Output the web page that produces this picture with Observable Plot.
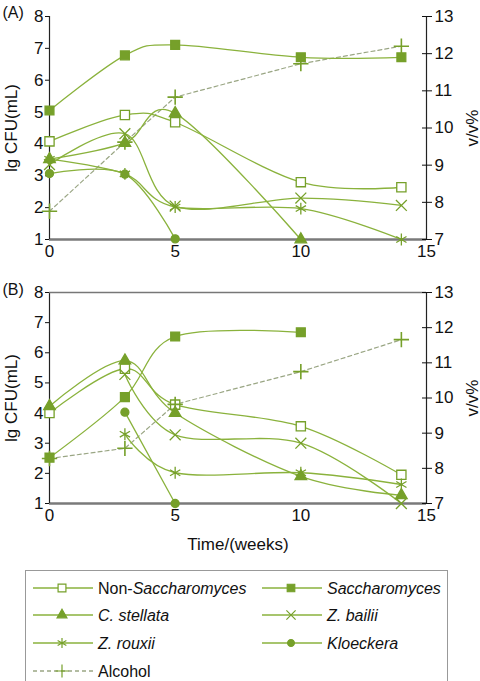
<!DOCTYPE html>
<html><head><meta charset="utf-8">
<script src="https://cdn.jsdelivr.net/npm/d3@7"></script>
<script src="https://cdn.jsdelivr.net/npm/@observablehq/plot@0.6"></script>
<style>
body{margin:0;background:#fff;font-family:"Liberation Sans",Arial,sans-serif;}
#wrap{position:relative;width:480px;height:681px;overflow:hidden;background:#fff;}
#wrap svg{display:block}
#legend{position:absolute;left:25px;top:570px;width:423px;height:116px;border:1px solid #999;box-sizing:border-box;}
#legend svg{position:absolute;left:0;top:0}
</style></head><body><div id="wrap"><div id="a"></div><div id="b"></div><div id="legend"></div></div>
<script>
// ---- data ----
const weeks = [0, 3, 5, 10, 14];
const leftTicks = [1, 2, 3, 4, 5, 6, 7, 8];
const rightTicks = [7, 8, 9, 10, 11, 12, 13];
const xTicks = [0, 5, 10, 15];
const seriesNames = ["Non-Saccharomyces", "Saccharomyces", "C. stellata", "Z. bailii", "Z. rouxii", "Kloeckera", "Alcohol"];

// Panel A (lg CFU/mL; alcohol in v/v%)
const nonSaccA   = [4.08, 4.91, 4.68, 2.80, 2.64];
const saccA      = [5.05, 6.78, 7.11, 6.72, 6.72];
const stellataA  = [3.52, 4.03, 4.96, 1.00, null];
const bailiiA    = [3.35, 4.32, 2.05, 2.30, 2.07];
const rouxiiA    = [3.52, 3.06, 2.02, 1.97, 1.00];
const kloeckeraA = [3.07, 3.05, 1.02, null, null];
const alcoholA   = [7.76, 9.62, 10.83, 11.73, 12.20];

// Panel B
const nonSaccB   = [4.00, 5.47, 4.28, 3.56, 1.95];
const saccB      = [2.52, 4.53, 6.54, 6.68, null];
const stellataB  = [4.23, 5.74, 4.00, 1.90, 1.27];
const bailiiB    = [null, 5.28, 3.28, 3.00, 1.00];
const rouxiiB    = [null, 3.30, 2.02, 2.02, 1.63];
const kloeckeraB = [null, 4.03, 1.00, null, null];
const alcoholB   = [8.28, 8.57, 9.82, 10.75, 11.66];

// ---- helpers ----
const toLeft = r => 1 + (r - 7) * 7 / 6;
const toRight = l => 7 + (l - 1) * 6 / 7;
const MARK = "#76a02a", LINE = "#8ab23c", DASH = "#9aa684";
const styleOf = {
  "Non-Saccharomyces": {symbol: "square", fill: "white", r: 5.2},
  "Saccharomyces": {symbol: "square", fill: MARK, r: 5},
  "C. stellata": {symbol: "triangle", fill: MARK, r: 4.3},
  "Z. bailii": {symbol: "times", fill: "none", r: 5},
  "Z. rouxii": {symbol: "asterisk", fill: "none", r: 5.6},
  "Kloeckera": {symbol: "circle", fill: MARK, r: 4},
  "Alcohol": {symbol: "plus", fill: "none", r: 5}
};

function rows(name, vals, alc) {
  return weeks.map((t, i) => ({series: name, t, v: vals[i]}))
    .filter(d => d.v != null)
    .map(d => alc ? {...d, y: toLeft(d.v)} : {...d, y: d.v});
}

function panel(sets, opts) {
  const species = seriesNames.slice(0, 6);
  const marks = [
    Plot.ruleY([1], {stroke: "#7a7a7a", strokeWidth: 2.6}),
    Plot.ruleX([0], {stroke: "#222", strokeWidth: 1.2}),
    Plot.ruleX([15], {stroke: "#222", strokeWidth: 1.2}),
  ];
  if (opts.top) marks.push(Plot.ruleY([8], {stroke: "#777", strokeWidth: 1.4}));
  marks.push(
    Plot.axisY({anchor: "left", ticks: leftTicks, tickFormat: d => String(d), tickSize: 4, tickPadding: 2, label: "lg CFU(mL)", labelAnchor: "center", labelArrow: "none", labelOffset: 45, fontSize: 17}),
    Plot.axisY({anchor: "right", ticks: rightTicks.map(toLeft), tickFormat: v => String(Math.round(toRight(v))), tickSize: 5, tickPadding: 3, label: "v/v%", labelAnchor: "center", labelArrow: "none", labelOffset: 51, fontSize: 17}),
    Plot.axisY({anchor: "right", ticks: rightTicks.map(toLeft), tickFormat: () => "", label: null, tickSize: 5, dx: -5}),
    Plot.axisX({ticks: xTicks, tickFormat: d => String(d), tickSize: 0, tickPadding: 5, label: opts.xlabel, labelAnchor: "center", labelArrow: "none", labelOffset: 46, fontSize: 17}),
    Plot.text([opts.tag], {frameAnchor: "top-left", dx: -47, dy: opts.tagDy, textAnchor: "start", lineAnchor: "middle", fontSize: 16})
  );
  const alc = rows("Alcohol", sets.alcohol, true);
  marks.push(Plot.line(alc, {x: "t", y: "y", stroke: DASH, strokeWidth: 1.2, strokeDasharray: "4,3"}));
  const all = species.map(n => rows(n, sets[n], false));
  all.forEach(d => marks.push(Plot.line(d, {x: "t", y: "y", stroke: LINE, strokeWidth: 1.3, curve: "cardinal"})));
  all.forEach((d, i) => {
    const s = styleOf[species[i]];
    marks.push(Plot.dot(d, {x: "t", y: "y", symbol: s.symbol, fill: s.fill, stroke: MARK, strokeWidth: 1.3, r: s.r}));
  });
  const sa = styleOf.Alcohol;
  marks.push(Plot.dot(alc, {x: "t", y: "y", symbol: sa.symbol, stroke: MARK, strokeWidth: 1.6, r: sa.r}));
  return Plot.plot({
    width: 480, height: opts.height,
    marginLeft: 49, marginRight: 54, marginTop: opts.mt, marginBottom: opts.mb,
    style: {fontFamily: "'Liberation Sans', Arial, sans-serif", fontSize: "16px", color: "#111", background: "white"},
    x: {domain: [0, 15]}, y: {domain: [1, 8]},
    marks
  });
}

const setsA = {"Non-Saccharomyces": nonSaccA, "Saccharomyces": saccA, "C. stellata": stellataA, "Z. bailii": bailiiA, "Z. rouxii": rouxiiA, "Kloeckera": kloeckeraA, alcohol: alcoholA};
const setsB = {"Non-Saccharomyces": nonSaccB, "Saccharomyces": saccB, "C. stellata": stellataB, "Z. bailii": bailiiB, "Z. rouxii": rouxiiB, "Kloeckera": kloeckeraB, alcohol: alcoholB};

document.getElementById("a").append(panel(setsA, {height: 265, mt: 16, mb: 26, tag: "(A)", tagDy: -4, xlabel: null, top: false}));
document.getElementById("b").append(panel(setsB, {height: 290, mt: 27, mb: 52, tag: "(B)", tagDy: -3, xlabel: "Time/(weeks)", top: true}));

// ---- legend ----
const legendItems = [
  {name: "Non-Saccharomyces", parts: [["Non-", false], ["Saccharomyces", true]], col: 0, row: 0},
  {name: "Saccharomyces", parts: [["Saccharomyces", true]], col: 1, row: 0},
  {name: "C. stellata", parts: [["C. stellata", true]], col: 0, row: 1},
  {name: "Z. bailii", parts: [["Z. bailii", true]], col: 1, row: 1},
  {name: "Z. rouxii", parts: [["Z. rouxii", true]], col: 0, row: 2},
  {name: "Kloeckera", parts: [["Kloeckera", true]], col: 1, row: 2},
  {name: "Alcohol", parts: [["Alcohol", false]], col: 0, row: 3}
];
const symMap = {square: d3.symbolSquare, triangle: d3.symbolTriangle, times: d3.symbolTimes, asterisk: d3.symbolAsterisk, circle: d3.symbolCircle, plus: d3.symbolPlus};
const lg = d3.select("#legend").append("svg").attr("width", 423).attr("height", 116)
  .style("font-family", "'Liberation Sans', Arial, sans-serif").style("font-size", "16px");
const colX = [7, 236], rowY = [17, 44, 72, 100];
legendItems.forEach(it => {
  const x0 = colX[it.col], y = rowY[it.row];
  const isAlc = it.name === "Alcohol";
  lg.append("line").attr("x1", x0).attr("x2", x0 + 60).attr("y1", y).attr("y2", y)
    .attr("stroke", isAlc ? DASH : LINE).attr("stroke-width", 1.3)
    .attr("stroke-dasharray", isAlc ? "4,3" : null);
  const s = styleOf[it.name];
  lg.append("path").attr("transform", `translate(${x0 + 29},${y})`)
    .attr("d", d3.symbol(symMap[s.symbol], (s.r * 0.85) ** 2 * Math.PI)())
    .attr("fill", s.fill === "none" ? "none" : s.fill).attr("stroke", MARK).attr("stroke-width", 1.2);
  const t = lg.append("text").attr("x", x0 + 65).attr("y", y).attr("dy", "0.35em").attr("fill", "#111");
  it.parts.forEach(([txt, it2]) => t.append("tspan").text(txt).attr("font-style", it2 ? "italic" : "normal"));
});
</script></body></html>
